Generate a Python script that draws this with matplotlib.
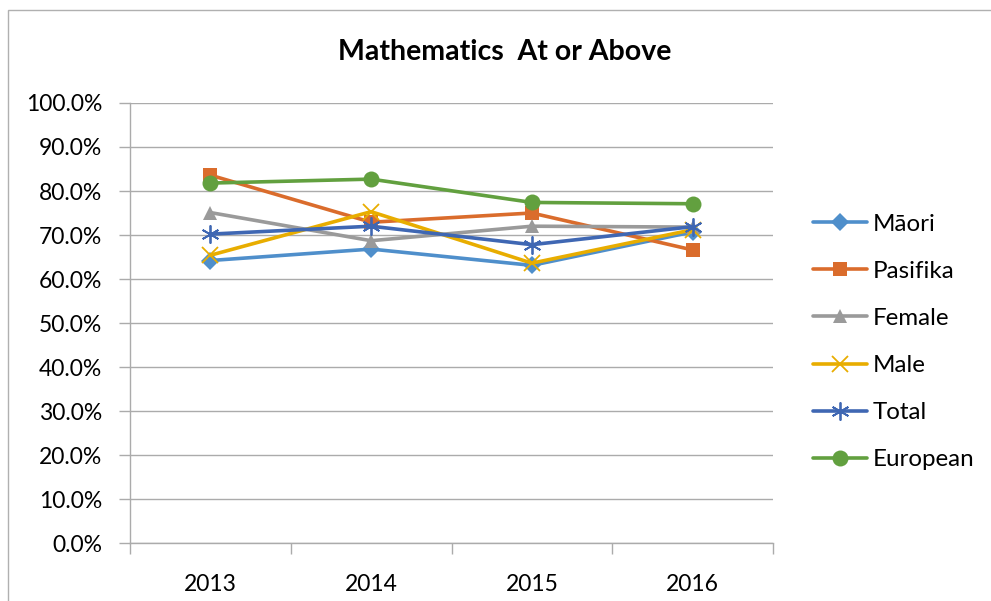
import matplotlib.pyplot as plt
from matplotlib.patches import Rectangle
from matplotlib.ticker import FuncFormatter, FixedLocator

# =========================
# Data
# =========================
YEARS = ["2013", "2014", "2015", "2016"]

MAORI = [64.2, 66.8, 63.1, 70.7]
PASIFIKA = [83.6, 72.9, 75.0, 66.6]
FEMALE = [75.1, 68.7, 72.0, 71.8]
MALE = [65.4, 75.3, 63.6, 71.2]
TOTAL = [70.2, 72.0, 67.8, 71.9]
EUROPEAN = [81.8, 82.7, 77.4, 77.1]

SERIES = [
    ("Māori", MAORI, "#4F8FCB", "D", 9),
    ("Pasifika", PASIFIKA, "#DA6C2C", "s", 9.5),
    ("Female", FEMALE, "#9A9A9A", "^", 10.5),
    ("Male", MALE, "#E8AD00", "x", 11),
    ("Total", TOTAL, "#3F67B3", (6, 2, 0), 13),
    ("European", EUROPEAN, "#62A03F", "o", 11.5),
]

TITLE = "Mathematics  At or Above"
FONT = ["Lato", "DejaVu Sans"]
GRID_COLOR = "#ABABAB"

plt.rcParams["font.family"] = FONT

fig = plt.figure(figsize=(9.91, 6.01), dpi=100)

# outer chart frame (only the top and left edges show in the reference)
fig.patches.append(
    Rectangle((8 / 991, -0.05), 1.1, (601 - 10) / 601 + 0.05,
              transform=fig.transFigure, fill=False,
              edgecolor="#B0B0B0", linewidth=1.0)
)

ax = fig.add_axes([130 / 991, 58 / 601, 643 / 991, 440 / 601])

x = list(range(len(YEARS)))
for label, values, color, marker, msize in SERIES:
    ax.plot(x, values, color=color, linewidth=2.6, marker=marker,
            markersize=msize, markeredgewidth=1.3 if marker in ("x", (6, 2, 0)) else 0,
            markeredgecolor=color, label=label, solid_capstyle="round",
            solid_joinstyle="round")

ax.set_xlim(-0.5, len(YEARS) - 0.5)
ax.set_ylim(0, 100)

# y axis
ax.set_yticks(range(0, 101, 10))
ax.yaxis.set_major_formatter(FuncFormatter(lambda v, _: f"{v:.1f}%"))
ax.tick_params(axis="y", length=8, width=1, color=GRID_COLOR, pad=12,
               labelsize=16.5, labelcolor="black")
ax.yaxis.grid(True, color=GRID_COLOR, linewidth=1.0)
ax.set_axisbelow(True)

# x axis: ticks between categories, labels at category centres
ax.xaxis.set_major_locator(FixedLocator([i - 0.5 for i in range(len(YEARS) + 1)]))
ax.xaxis.set_major_formatter(FuncFormatter(lambda v, _: ""))
ax.xaxis.set_minor_locator(FixedLocator(x))
ax.set_xticklabels(YEARS, minor=True)
ax.tick_params(axis="x", which="major", length=8, width=1, color=GRID_COLOR)
ax.tick_params(axis="x", which="minor", length=0, pad=22, labelsize=16.5,
               labelcolor="black")

for side in ("top", "right"):
    ax.spines[side].set_visible(False)
for side in ("left", "bottom"):
    ax.spines[side].set_color(GRID_COLOR)
    ax.spines[side].set_linewidth(1.0)

fig.text(505 / 991, (601 - 52) / 601, TITLE, ha="center", va="center",
         fontsize=20.5, fontweight="bold", color="black")

fig.legend(loc="center left", bbox_to_anchor=(813 / 991, (601 - 342) / 601),
           frameon=False, fontsize=17.4, handlelength=2.23, handletextpad=0.25,
           labelspacing=1.08, borderpad=0, borderaxespad=0)

fig.savefig("out.png", dpi=100)
